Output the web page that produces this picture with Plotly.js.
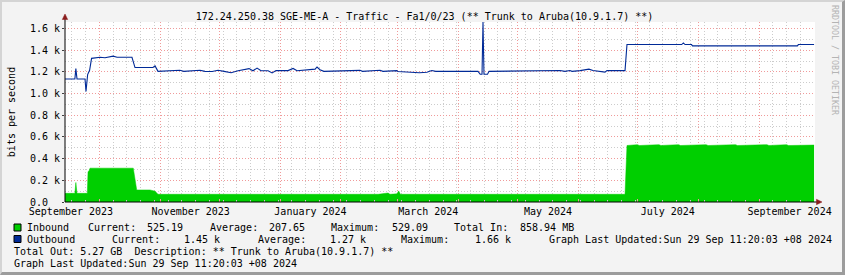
<!DOCTYPE html>
<html>
<head>
<meta charset="utf-8">
<script src="https://cdn.plot.ly/plotly-3.0.1.min.js"></script>
<style>
  html, body { margin: 0; padding: 0; background: #f3f3f3; }
  #wrap { position: relative; width: 845px; height: 275px; }
  #chart { width: 845px; height: 275px; }
  #frame { position: absolute; left: 0; top: 0; width: 845px; height: 275px; box-sizing: border-box;
           border-top: 2px solid #d4d4d4; border-left: 2px solid #d4d4d4;
           border-right: 3px solid #9c9c9c; border-bottom: 3px solid #9c9c9c; pointer-events: none; }
</style>
</head>
<body>
<div id="wrap"><div id="chart"></div><div id="frame"></div></div>
<script>
// ---------------- DATA ----------------
const chartTitle = '172.24.250.38 SGE-ME-A - Traffic - Fa1/0/23 (** Trunk to Aruba(10.9.1.7) **)';
const yTitle = 'bits per second';
const timeRange = ['2023-09-13 11:20', '2024-09-29 11:20'];

const inboundDates = [
  '2023-09-13 12:00','2023-09-18 12:00','2023-09-19 00:00','2023-09-19 14:00','2023-09-24 20:00',
  '2023-09-25 05:00','2023-09-25 17:00','2023-09-26 05:00','2023-10-18 06:00','2023-10-19 03:00',
  '2023-10-20 00:00','2023-10-26 18:00','2023-10-29 08:00','2023-10-30 20:00','2024-02-20 00:00',
  '2024-02-25 00:00','2024-02-26 00:00','2024-02-29 14:00','2024-03-01 10:00','2024-03-02 07:00',
  '2024-06-24 17:00','2024-06-25 17:00','2024-07-01 00:00','2024-07-02 00:00','2024-07-12 00:00',
  '2024-07-13 00:00','2024-07-22 00:00','2024-07-23 00:00','2024-08-05 00:00','2024-08-06 00:00',
  '2024-08-20 00:00','2024-08-21 00:00','2024-09-05 00:00','2024-09-06 00:00','2024-09-15 00:00',
  '2024-09-16 00:00','2024-09-25 00:00','2024-09-29 00:00'
];
const inboundValues = [
  80, 80, 180, 80, 80,
  280, 285, 312, 312, 188,
  111, 111, 100, 71, 71,
  83, 71, 75, 102, 71,
  71, 521, 529, 521, 529,
  521, 529, 521, 529, 521,
  529, 521, 529, 521, 529,
  521, 525, 525
];

const outboundDates = [
  '2023-09-13 12:00','2023-09-18 12:00','2023-09-19 00:00','2023-09-19 14:00','2023-09-23 16:00',
  '2023-09-24 04:00','2023-09-25 00:00','2023-09-26 00:00','2023-09-27 00:00','2023-10-01 08:00',
  '2023-10-03 20:00','2023-10-06 10:00','2023-10-08 00:00','2023-10-10 00:00','2023-10-14 00:00',
  '2023-10-16 14:00','2023-10-17 14:00','2023-10-19 03:00','2023-10-28 07:00','2023-10-29 08:00',
  '2023-10-30 20:00','2023-11-11 00:00','2023-11-13 00:00','2023-11-21 05:00','2023-11-23 19:00',
  '2023-11-27 10:00','2023-11-30 10:00','2023-12-03 12:00','2023-12-07 02:00','2023-12-10 15:00',
  '2023-12-16 05:00','2023-12-18 05:00','2023-12-20 07:00','2023-12-22 08:00','2023-12-25 22:00',
  '2023-12-27 23:00','2023-12-29 23:00','2024-01-05 02:00','2024-01-07 15:00','2024-01-09 16:00',
  '2024-01-18 21:00','2024-01-19 20:00','2024-01-21 08:00','2024-01-23 08:00','2024-02-10 17:00',
  '2024-02-12 00:00','2024-02-20 22:00','2024-02-22 10:00','2024-02-29 12:00','2024-03-01 00:00',
  '2024-03-07 02:00','2024-03-12 00:00','2024-03-15 19:00','2024-03-18 07:00','2024-03-20 08:00',
  '2024-04-10 20:00','2024-04-11 23:00','2024-04-12 21:00','2024-04-13 09:00','2024-04-13 21:00',
  '2024-04-15 16:00','2024-04-16 11:00','2024-05-22 14:00','2024-05-25 03:00','2024-05-27 16:00',
  '2024-05-28 17:00','2024-06-01 19:00','2024-06-06 08:00','2024-06-08 09:00','2024-06-12 11:00',
  '2024-06-14 12:00','2024-06-15 12:00','2024-06-24 17:00','2024-06-25 17:00','2024-07-23 14:00',
  '2024-07-24 10:00','2024-07-25 07:00','2024-07-28 14:00','2024-07-29 02:00','2024-09-20 12:00',
  '2024-09-21 00:00','2024-09-29 00:00'
];
const outboundValues = [
  1135, 1135, 1230, 1135, 1135,
  1020, 1175, 1215, 1325, 1335,
  1330, 1340, 1345, 1335, 1335,
  1340, 1335, 1240, 1240, 1255,
  1205, 1215, 1205, 1215, 1205,
  1203, 1215, 1205, 1192, 1210,
  1230, 1210, 1235, 1210, 1210,
  1190, 1212, 1212, 1232, 1210,
  1225, 1245, 1220, 1205, 1214,
  1205, 1215, 1205, 1212, 1203,
  1195, 1192, 1196, 1212, 1205,
  1205, 1178, 1178, 1660, 1178,
  1178, 1205, 1213, 1205, 1212,
  1205, 1212, 1225, 1212, 1198,
  1198, 1212, 1212, 1452, 1452,
  1467, 1452, 1452, 1440, 1440,
  1452, 1452
];

const yTickValues = [0, 200, 400, 600, 800, 1000, 1200, 1400, 1600];
const yTickLabels = ['0.0\u00a0\u00a0', '0.2 k', '0.4 k', '0.6 k', '0.8 k', '1.0 k', '1.2 k', '1.4 k', '1.6 k'];
const xLabelDates = ['2023-09-16 12:00','2023-11-16 12:00','2024-01-16 12:00','2024-03-16 12:00',
                     '2024-05-16 12:00','2024-07-16 12:00','2024-09-16 12:00'];
const xLabelTexts = ['September 2023','November 2023','January 2024','March 2024',
                     'May 2024','July 2024','September 2024'];

const legendInbound = ['Inbound','Current:','525.19','Average:','207.65','Maximum:','529.09','Total In:','858.94 MB'];
const legendOutbound = ['Outbound','Current:','1.45 k','Average:','1.27 k','Maximum:','1.66 k',
                        'Graph Last Updated:Sun 29 Sep 11:20:03 +08 2024'];
const footerLines = ['Total Out: 5.27 GB  Description: ** Trunk to Aruba(10.9.1.7) **',
                     'Graph Last Updated:Sun 29 Sep 11:20:03 +08 2024'];
const watermark = 'RRDTOOL / TOBI OETIKER';

const inboundColor = '#00CF00';
const outboundColor = '#002A97';

// ---------------- LAYOUT HELPERS ----------------
const L = 65, R = 815, T = 22, B = 202;
const px = v => (v - L) / (R - L);
const py = v => (B - v) / (B - T);
const MONO = 'DejaVu Sans Mono';

const inX = [27, 88.3, 147.7, 210, 269.3, 331.7, 392, 454.3, 520];
const outX = [27, 112.3, 184.3, 258.3, 330, 401.7, 475, 549.3];

const annotations = [];
function txt(text, x, y, opts) {
  annotations.push(Object.assign({
    text: text, xref: 'paper', yref: 'paper', x: px(x), y: py(y),
    xanchor: 'left', yanchor: 'middle', showarrow: false,
    borderpad: 0, borderwidth: 0,
    font: { family: MONO, size: 10, color: '#000' }
  }, opts || {}));
}
legendInbound.forEach((t, i) => txt(t, inX[i] - 0.5, 227.6));
legendOutbound.forEach((t, i) => txt(t, outX[i] - 0.5, 239.2));
txt(footerLines[0], 13.8, 251.2);
txt(footerLines[1], 13.8, 263.4);
txt(watermark, 835, 60, { xanchor: 'center', textangle: 90,
  font: { family: MONO, size: 8.3, color: '#b4b4b4' } });

const arrowColor = '#8b1c1c';
const shapes = [
  // legend swatches
  { type: 'rect', xref: 'paper', yref: 'paper', x0: px(14), x1: px(21), y0: py(224), y1: py(231),
    fillcolor: inboundColor, line: { color: '#000', width: 1 } },
  { type: 'rect', xref: 'paper', yref: 'paper', x0: px(14), x1: px(21), y0: py(235.5), y1: py(242.5),
    fillcolor: outboundColor, line: { color: '#000', width: 1 } },
  // axis extensions and arrows
  { type: 'line', xref: 'paper', yref: 'paper', x0: px(65), x1: px(65), y0: py(202), y1: py(18),
    line: { color: '#000', width: 1 } },
  { type: 'line', xref: 'paper', yref: 'paper', x0: px(65), x1: px(818), y0: py(202), y1: py(202),
    line: { color: '#000', width: 1 } },
  { type: 'path', xref: 'paper', yref: 'paper',
    path: `M ${px(62.3)},${py(19.5)} L ${px(67.7)},${py(19.5)} L ${px(65)},${py(14)} Z`,
    fillcolor: arrowColor, line: { color: arrowColor, width: 0.5 } },
  { type: 'path', xref: 'paper', yref: 'paper',
    path: `M ${px(816.5)},${py(199.3)} L ${px(816.5)},${py(204.7)} L ${px(822)},${py(202)} Z`,
    fillcolor: arrowColor, line: { color: arrowColor, width: 0.5 } }
];

// ---------------- TRACES ----------------
const traces = [
  { x: inboundDates, y: inboundValues, type: 'scatter', mode: 'lines', fill: 'tozeroy',
    fillcolor: inboundColor, line: { color: inboundColor, width: 0.5 },
    hoverinfo: 'skip', showlegend: false },
  { x: outboundDates, y: outboundValues, type: 'scatter', mode: 'lines',
    line: { color: outboundColor, width: 1.1 }, hoverinfo: 'skip', showlegend: false },
  { x: inboundDates, y: inboundValues, xaxis: 'x2', type: 'scatter', mode: 'none',
    hoverinfo: 'skip', showlegend: false }
];

const layout = {
  width: 845, height: 275,
  margin: { l: L, r: 845 - R, t: T, b: 275 - B },
  paper_bgcolor: '#f3f3f3', plot_bgcolor: '#ffffff',
  showlegend: false,
  font: { family: MONO, size: 10, color: '#000' },
  title: { text: chartTitle, font: { family: MONO, size: 10, color: '#000' },
           xref: 'container', x: 424.5 / 845, xanchor: 'center',
           yref: 'container', y: 1 - 16.2 / 275, yanchor: 'middle' },
  xaxis: {
    type: 'date', range: timeRange, showticklabels: false,
    tickmode: 'linear', tick0: '2023-10-01', dtick: 'M1',
    showgrid: true, gridcolor: '#f09a9a', griddash: '1px,2px', gridwidth: 1,
    ticks: 'inside', ticklen: 3, tickcolor: '#f09a9a',
    minor: { tick0: '2023-09-17', dtick: 7 * 86400000, showgrid: true, gridcolor: '#cccccc',
             griddash: '1px,2px', ticks: 'inside', ticklen: 2, tickcolor: '#cccccc' },
    showline: false, zeroline: false, fixedrange: true
  },
  xaxis2: {
    type: 'date', range: timeRange, overlaying: 'x', anchor: 'y', side: 'bottom',
    tickmode: 'array', tickvals: xLabelDates, ticktext: xLabelTexts,
    showgrid: false, ticks: '', showline: false, zeroline: false, ticklabelstandoff: 2,
    tickfont: { family: MONO, size: 10, color: '#000' }, fixedrange: true
  },
  yaxis: {
    range: [0, 1660], tickmode: 'array', tickvals: yTickValues, ticktext: yTickLabels,
    showgrid: true, gridcolor: '#f09a9a', griddash: '1px,2px',
    minor: { dtick: 100, showgrid: true, gridcolor: '#cccccc', griddash: '1px,2px' },
    ticks: 'outside', ticklen: 2, tickcolor: '#404040',
    showline: false, zeroline: false,
    tickfont: { family: MONO, size: 10, color: '#000' },
    title: { text: yTitle, font: { family: MONO, size: 10, color: '#000' }, standoff: 12 },
    fixedrange: true
  },
  shapes: shapes,
  annotations: annotations
};

Plotly.newPlot('chart', traces, layout, { staticPlot: true, displayModeBar: false });
</script>
</body>
</html>
